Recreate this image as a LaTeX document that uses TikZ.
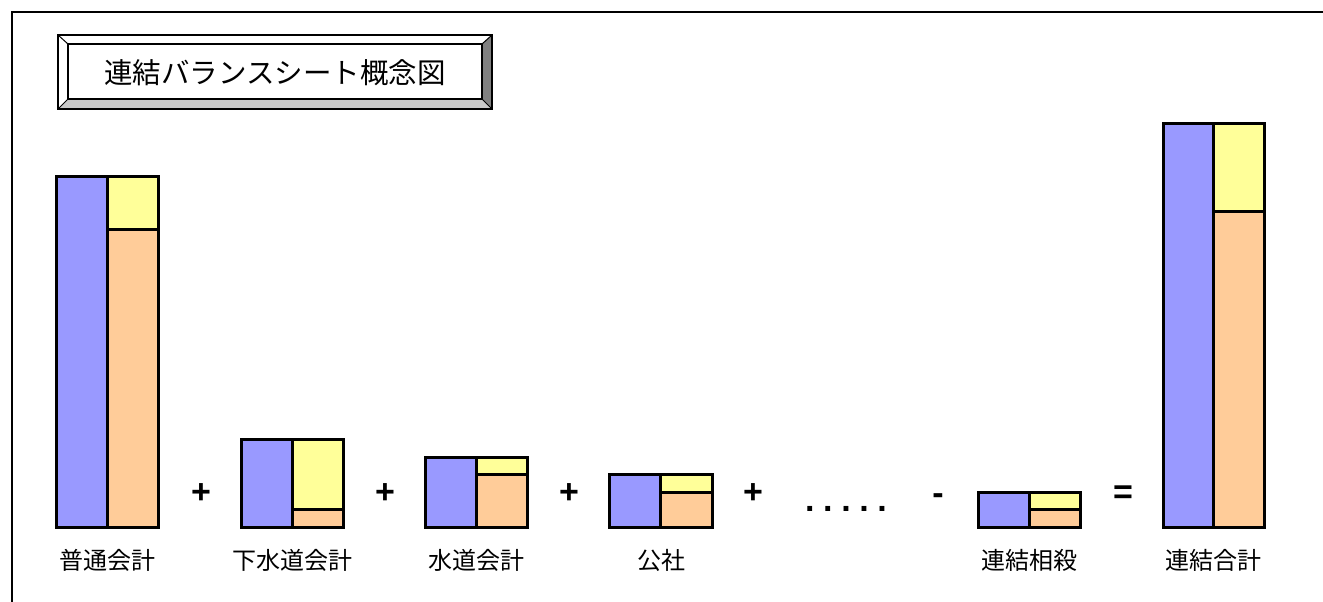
\documentclass[tikz,border=0pt]{standalone}
\usepackage{fontspec}
\setmainfont{Liberation Sans}
\newfontfamily\jpfont{Noto Sans CJK JP}
\definecolor{barblue}{HTML}{9999FF}
\definecolor{baryellow}{HTML}{FFFF99}
\definecolor{barorange}{HTML}{FFCC99}
\definecolor{bevdark}{HTML}{808080}
\definecolor{bevlight}{HTML}{C8C8C8}
\tikzset{
  cell/.style={draw=black, line width=3pt},
  oplabel/.style={font=\fontsize{34}{36}\selectfont\bfseries, inner sep=0pt, anchor=base},
  barlabel/.style={font=\jpfont\fontsize{24}{26}\selectfont, inner sep=0pt},
}
% \bsbar{name}{left}{mid}{right}{top}{split}{bottom}
\newcommand{\bsbar}[7]{%
  \fill[barblue] (#2,#5) rectangle (#3,#7);
  \fill[baryellow] (#3,#5) rectangle (#4,#6);
  \fill[barorange] (#3,#6) rectangle (#4,#7);
  \draw[cell] (#3,#6) -- (#4,#6);
  \draw[cell] (#3,#5) -- (#3,#7);
  \draw[cell] (#2,#5) rectangle (#4,#7);
  \coordinate (#1) at (#3,#7);
}
\begin{document}
\begin{tikzpicture}[x=1pt,y=-1pt]
\useasboundingbox (0,0) rectangle (1323,602);
% frame
\draw[line width=1.5pt] (12,602) -- (12,12) -- (1323,12);
% title bevel box
\fill[white] (58,35) -- (492,35) -- (482,44) -- (68,44) -- cycle;
\fill[white] (58,35) -- (68,44) -- (68,99) -- (58,109) -- cycle;
\fill[bevdark] (492,35) -- (492,109) -- (482,99) -- (482,44) -- cycle;
\fill[bevlight] (58,109) -- (492,109) -- (482,99) -- (68,99) -- cycle;
\draw[line width=1.3pt] (58,35) rectangle (492,109);
\draw[line width=1.3pt] (68,44) rectangle (482,99);
\draw[line width=1pt] (58,35) -- (68,44) (492,35) -- (482,44) (58,109) -- (68,99) (492,109) -- (482,99);
\node[font=\jpfont\fontsize{28.5}{30}\selectfont, inner sep=0pt] (title) at (275,73) {連結バランスシート概念図};
% bars
\bsbar{b1}{56}{107}{158}{176}{229}{527}
\bsbar{b2}{241}{292}{343}{439}{509}{527}
\bsbar{b3}{425}{476}{527}{457}{474}{527}
\bsbar{b4}{609}{660}{712}{474}{492}{527}
\bsbar{b5}{978}{1029}{1080}{492}{509}{527}
\bsbar{b6}{1163}{1213}{1264}{123}{211}{527}
% labels
\node[barlabel] (l1) at (107,560) {普通会計};
\node[barlabel] (l2) at (292,560) {下水道会計};
\node[barlabel] (l3) at (476,560) {水道会計};
\node[barlabel] (l4) at (661,560) {公社};
\node[barlabel] (l5) at (1029,560) {連結相殺};
\node[barlabel] (l6) at (1213,560) {連結合計};
% operators
\node[oplabel] (p1) at (201,503) {+};
\node[oplabel] (p2) at (385,503) {+};
\node[oplabel] (p3) at (569,503) {+};
\node[oplabel] (p4) at (753,503) {+};
\node[oplabel] (dots) at (846,511) {.\kern8.6pt.\kern8.6pt.\kern8.6pt.\kern8.6pt.};
\node[oplabel] (minus) at (938,504) {-};
\node[oplabel] (eq) at (1123,503) {=};
\end{tikzpicture}
\end{document}
